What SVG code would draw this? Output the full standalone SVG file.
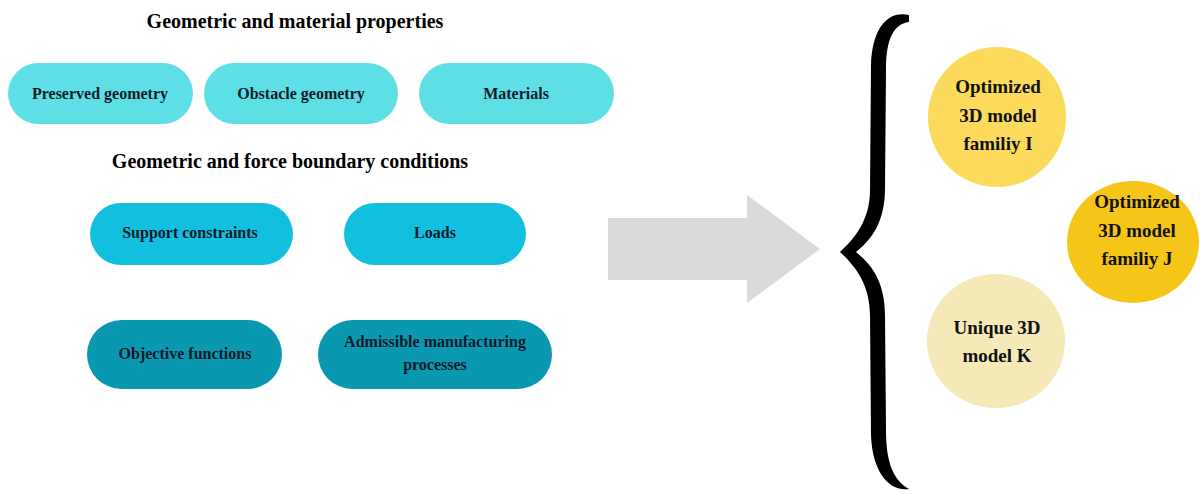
<svg xmlns="http://www.w3.org/2000/svg" width="1200" height="494" viewBox="0 0 1200 494">
<style>
.title{font-family:"Liberation Serif","Times New Roman",serif;font-weight:bold;font-size:20px;fill:#000;text-anchor:middle}
.lbl{font-family:"Liberation Serif","Times New Roman",serif;font-weight:bold;font-size:16px;fill:#0b1a2a;text-anchor:middle}
.clbl{font-family:"Liberation Serif","Times New Roman",serif;font-weight:bold;font-size:19px;fill:#111;text-anchor:middle}
.p1{fill:#5edfe6}
.p2{fill:#12bfdf}
.p3{fill:#0a98b0}
</style>
<rect width="1200" height="494" fill="#ffffff"/>
<text class="title" x="295" y="28">Geometric and material properties</text>
<text class="title" x="290" y="168">Geometric and force boundary conditions</text>

<g id="preserved-geometry">
<rect class="p1" x="8" y="63" width="185" height="61" rx="30.5"/>
<text class="lbl" x="100" y="99">Preserved geometry</text>
</g>
<g id="obstacle-geometry">
<rect class="p1" x="204" y="63" width="194" height="61" rx="30.5"/>
<text class="lbl" x="301" y="99">Obstacle geometry</text>
</g>
<g id="materials">
<rect class="p1" x="419" y="63" width="195" height="61" rx="30.5"/>
<text class="lbl" x="516" y="99">Materials</text>
</g>
<g id="support-constraints">
<rect class="p2" x="90" y="203" width="203" height="62" rx="31"/>
<text class="lbl" x="190" y="238">Support constraints</text>
</g>
<g id="loads">
<rect class="p2" x="344" y="203" width="182" height="62" rx="31"/>
<text class="lbl" x="435" y="238">Loads</text>
</g>
<g id="objective-functions">
<rect class="p3" x="87" y="320" width="195" height="69" rx="34.5"/>
<text class="lbl" x="185" y="359">Objective functions</text>
</g>
<g id="admissible-manufacturing">
<rect class="p3" x="318" y="320" width="234" height="69" rx="34.5"/>
<text class="lbl" x="435" y="347">Admissible manufacturing</text>
<text class="lbl" x="435" y="370">processes</text>
</g>

<g id="connectors">
<polygon points="608,218 747,218 747,195 820,249 747,303 747,280 608,280" fill="#d9d9d9"/>
<path d="M 909 15 C 888 10, 872 28, 871 65 L 870 190 C 870 220, 855 238, 840 252 C 855 266, 870 284, 870 316 L 871 435 C 872 470, 888 492, 909 489 C 893 480, 886 462, 886 430 L 885 316 C 885 282, 872 265, 856 252 C 872 239, 885 222, 885 188 L 886 70 C 886 40, 893 24, 909 22 Z" fill="#000"/>
</g>

<g id="family-i">
<ellipse cx="997" cy="117" rx="69" ry="70" fill="#fcda5c"/>
<text class="clbl" x="998" y="93">Optimized</text>
<text class="clbl" x="998" y="122">3D model</text>
<text class="clbl" x="998" y="150">familiy I</text>
</g>
<g id="family-j">
<ellipse cx="1133" cy="242" rx="66" ry="61" fill="#f5c518"/>
<text class="clbl" x="1137" y="208">Optimized</text>
<text class="clbl" x="1137" y="237">3D model</text>
<text class="clbl" x="1137" y="265">familiy J</text>
</g>
<g id="unique-k">
<ellipse cx="996" cy="341" rx="69" ry="67" fill="#f6e9b8"/>
<text class="clbl" x="997" y="334">Unique 3D</text>
<text class="clbl" x="997" y="362">model K</text>
</g>
</svg>
